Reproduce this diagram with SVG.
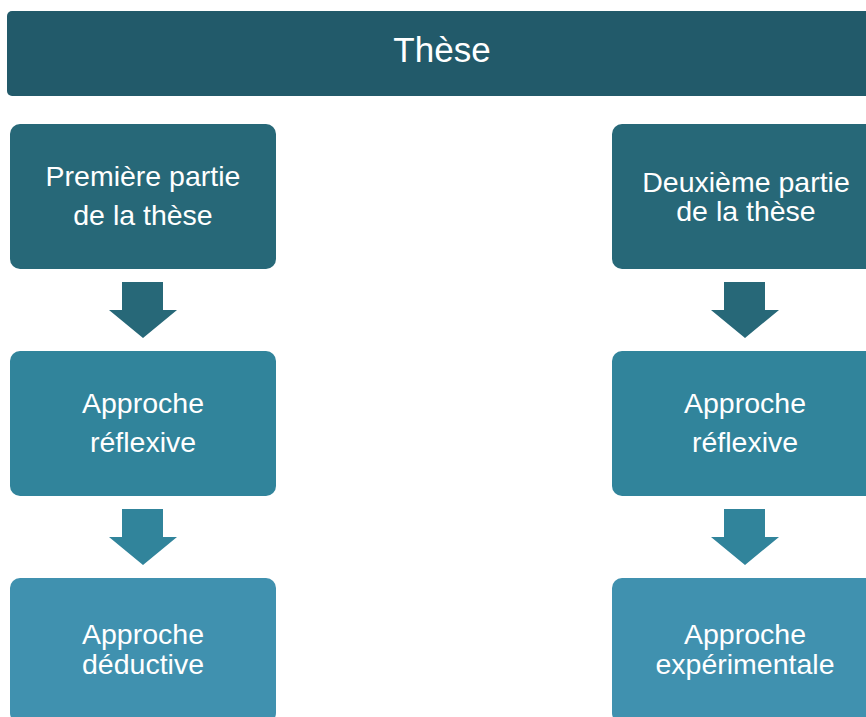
<svg xmlns="http://www.w3.org/2000/svg" width="866" height="717" viewBox="0 0 866 717">
<style>
text{font-family:"Liberation Sans",Arial,sans-serif;fill:#fff;text-anchor:middle}
.t{font-size:35px}
.n{font-size:28.5px}
.c1{fill:#276878}
.c2{fill:#31849B}
.c3{fill:#4091AF}
</style>
<rect width="866" height="717" fill="#fff"/>
<g id="these">
<rect x="7" y="11" width="872" height="85" rx="5" fill="#225A6A"/>
<text class="t" x="442" y="62">Thèse</text>
</g>
<g id="premiere">
<rect class="c1" x="10" y="124" width="266" height="145" rx="10"/>
<text class="n" x="143" y="186">Première partie</text>
<text class="n" x="143" y="225">de la thèse</text>
</g>
<g id="reflexive1">
<rect class="c2" x="10" y="351" width="266" height="145" rx="10"/>
<text class="n" x="143" y="413">Approche</text>
<text class="n" x="143" y="452">réflexive</text>
</g>
<g id="deductive">
<rect class="c3" x="10" y="578" width="266" height="145" rx="10"/>
<text class="n" x="143" y="644">Approche</text>
<text class="n" x="143" y="674">déductive</text>
</g>
<g id="deuxieme">
<rect class="c1" x="612" y="124" width="266" height="145" rx="10"/>
<text class="n" x="746" y="192">Deuxième partie</text>
<text class="n" x="746" y="221">de la thèse</text>
</g>
<g id="reflexive2">
<rect class="c2" x="612" y="351" width="266" height="145" rx="10"/>
<text class="n" x="745" y="413">Approche</text>
<text class="n" x="745" y="452">réflexive</text>
</g>
<g id="experimentale">
<rect class="c3" x="612" y="578" width="266" height="145" rx="10"/>
<text class="n" x="745" y="644">Approche</text>
<text class="n" x="745" y="674">expérimentale</text>
</g>
<g id="connectors">
<polygon class="c1" points="122,282 163,282 163,310 177,310 143,338 109,310 122,310"/>
<polygon class="c2" points="122,509 163,509 163,537 177,537 143,565 109,537 122,537"/>
<polygon class="c1" points="724,282 765,282 765,310 779,310 745,338 711,310 724,310"/>
<polygon class="c2" points="724,509 765,509 765,537 779,537 745,565 711,537 724,537"/>
</g>
</svg>
